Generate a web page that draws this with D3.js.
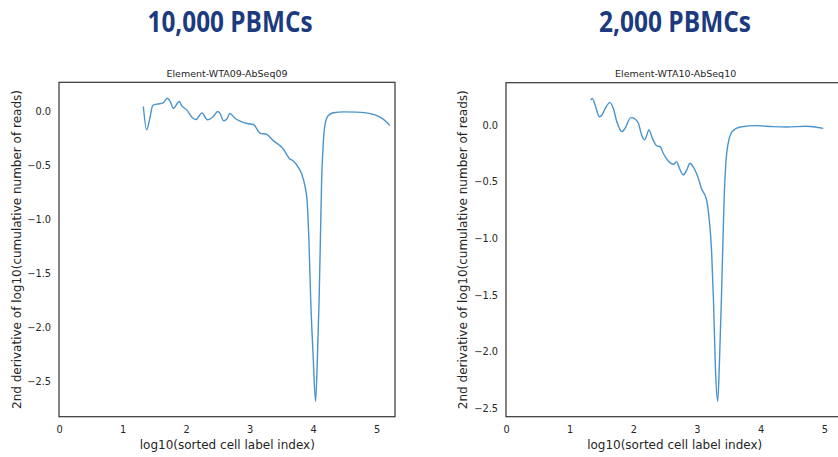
<!DOCTYPE html>
<html>
<head>
<meta charset="utf-8">
<script src="https://cdn.jsdelivr.net/npm/d3@7"></script>
<style>
  html, body { margin: 0; padding: 0; background: #ffffff; }
  svg { display: block; }
</style>
</head>
<body>
<div id="chart"></div>
<script>
// ---------------- Data ----------------
const panelTitles = ["10,000 PBMCs", "2,000 PBMCs"];
const subTitles = ["Element-WTA09-AbSeq09", "Element-WTA10-AbSeq10"];
const xLabel = "log10(sorted cell label index)";
const yLabel = "2nd derivative of log10(cumulative number of reads)";
const xTicks = [0, 1, 2, 3, 4, 5];
const yTicks = [0.0, -0.5, -1.0, -1.5, -2.0, -2.5];

const wta09X = [1.328, 1.38, 1.433, 1.475, 1.51, 1.565, 1.64, 1.705, 1.75, 1.80, 1.895, 1.93, 2.01, 2.105, 2.16, 2.25, 2.335, 2.43, 2.50, 2.535, 2.59, 2.64, 2.69, 2.77, 2.85, 2.98, 3.06, 3.165, 3.27, 3.375, 3.53, 3.63, 3.69, 3.77, 3.82, 3.875, 3.905, 3.935, 3.963, 4.0, 4.04, 4.07, 4.095, 4.115, 4.135, 4.16, 4.19, 4.24, 4.32, 4.48, 4.69, 4.90, 5.055, 5.16, 5.21];
const wta09Y = [0.046, -0.17, -0.053, 0.056, 0.065, 0.07, 0.08, 0.123, 0.095, 0.03, 0.093, 0.056, 0.015, -0.06, -0.074, -0.013, -0.077, -0.046, 0.0, -0.017, -0.086, -0.071, -0.019, -0.062, -0.09, -0.114, -0.12, -0.2, -0.213, -0.27, -0.346, -0.438, -0.46, -0.52, -0.577, -0.70, -0.82, -1.2, -1.75, -2.25, -2.69, -2.25, -1.75, -1.2, -0.64, -0.30, -0.114, -0.037, -0.012, -0.003, -0.006, -0.02, -0.053, -0.099, -0.13];

const wta10X = [1.33, 1.356, 1.40, 1.466, 1.50, 1.555, 1.63, 1.686, 1.74, 1.82, 1.87, 1.96, 2.026, 2.08, 2.13, 2.18, 2.246, 2.30, 2.37, 2.42, 2.47, 2.55, 2.63, 2.68, 2.72, 2.785, 2.84, 2.89, 2.94, 3.02, 3.07, 3.15, 3.19, 3.23, 3.26, 3.29, 3.325, 3.35, 3.39, 3.425, 3.455, 3.49, 3.56, 3.68, 3.94, 4.2, 4.41, 4.72, 4.985];
const wta10Y = [0.22, 0.235, 0.176, 0.073, 0.082, 0.141, 0.197, 0.147, 0.03, -0.059, -0.03, 0.065, 0.053, 0.015, -0.088, -0.132, -0.044, -0.118, -0.185, -0.19, -0.25, -0.318, -0.347, -0.324, -0.376, -0.44, -0.397, -0.338, -0.368, -0.47, -0.56, -0.66, -0.82, -1.12, -1.56, -2.15, -2.44, -2.15, -1.41, -0.677, -0.324, -0.162, -0.053, -0.018, -0.006, -0.015, -0.018, -0.012, -0.03];

// axis limits per panel
const xLimits = [[0, 5.29], [0, 5.33]];
const yLimits = [[-2.831, 0.271], [-2.575, 0.373]];

// ---------------- Layout ----------------
const W = 838, H = 457;
const panels = [
  { left: 59, right: 395, top: 82.3, bottom: 416.7, titleX: 230, titleW: 165, ylabX: 17, xs: wta09X, ys: wta09Y },
  { left: 506, right: 845.3, top: 82.7, bottom: 416.7, titleX: 675, titleW: 152, ylabX: 463, xs: wta10X, ys: wta10Y }
];

const svg = d3.select("#chart").append("svg")
  .attr("width", W).attr("height", H)
  .attr("viewBox", `0 0 ${W} ${H}`);

const textColor = "#262626";
const lineColor = "#4a94cd";
const fmt = d3.format(".1f");

panels.forEach((p, i) => {
  const x = d3.scaleLinear().domain(xLimits[i]).range([p.left, p.right]);
  const y = d3.scaleLinear().domain(yLimits[i]).range([p.bottom, p.top]);

  // big title
  svg.append("text")
    .attr("x", p.titleX).attr("y", 32)
    .attr("text-anchor", "middle")
    .attr("font-family", "'Open Sans', Lato, sans-serif")
    .attr("font-weight", 700)
    .attr("font-size", 29)
    .attr("fill", "#1c3a7e")
    .attr("textLength", p.titleW)
    .attr("lengthAdjust", "spacingAndGlyphs")
    .text(panelTitles[i]);

  // subtitle
  svg.append("text")
    .attr("x", (p.left + p.right) / 2)
    .attr("y", 77)
    .attr("text-anchor", "middle")
    .attr("font-family", "'DejaVu Sans', sans-serif")
    .attr("font-size", 9.5)
    .attr("fill", textColor)
    .text(subTitles[i]);

  // x axis
  const gx = svg.append("g")
    .attr("transform", `translate(0,${p.bottom})`)
    .call(d3.axisBottom(x).tickValues(xTicks).tickFormat(d3.format("d")).tickSize(0).tickPadding(9));
  gx.select(".domain").remove();
  gx.selectAll("text")
    .attr("font-family", "'DejaVu Sans', sans-serif")
    .attr("font-size", 9.8)
    .attr("fill", textColor);

  // y axis
  const gy = svg.append("g")
    .attr("transform", `translate(${p.left},0)`)
    .call(d3.axisLeft(y).tickValues(yTicks).tickFormat(fmt).tickSize(0).tickPadding(8));
  gy.select(".domain").remove();
  gy.selectAll("text")
    .attr("font-family", "'DejaVu Sans', sans-serif")
    .attr("font-size", 9.8)
    .attr("fill", textColor);

  // line
  const pts = p.xs.map((v, k) => [v, p.ys[k]]);
  const line = d3.line()
    .x(d => x(d[0])).y(d => y(d[1]))
    .curve(d3.curveMonotoneX);
  svg.append("path")
    .datum(pts)
    .attr("d", line)
    .attr("fill", "none")
    .attr("stroke", lineColor)
    .attr("stroke-width", 1.4)
    .attr("stroke-linejoin", "round");

  // frame
  svg.append("rect")
    .attr("x", p.left).attr("y", p.top)
    .attr("width", p.right - p.left).attr("height", p.bottom - p.top)
    .attr("fill", "none")
    .attr("stroke", "#333333")
    .attr("stroke-width", 1.2);

  // x label
  svg.append("text")
    .attr("x", x(2.65)).attr("y", 449)
    .attr("text-anchor", "middle")
    .attr("font-family", "'DejaVu Sans', sans-serif")
    .attr("font-size", 12)
    .attr("fill", textColor)
    .text(xLabel);

  // y label
  svg.append("text")
    .attr("transform", `translate(${p.ylabX},${(p.top + p.bottom) / 2}) rotate(-90)`)
    .attr("text-anchor", "middle")
    .attr("dominant-baseline", "middle")
    .attr("font-family", "'DejaVu Sans', sans-serif")
    .attr("font-size", 12)
    .attr("fill", textColor)
    .text(yLabel);
});
</script>
</body>
</html>
